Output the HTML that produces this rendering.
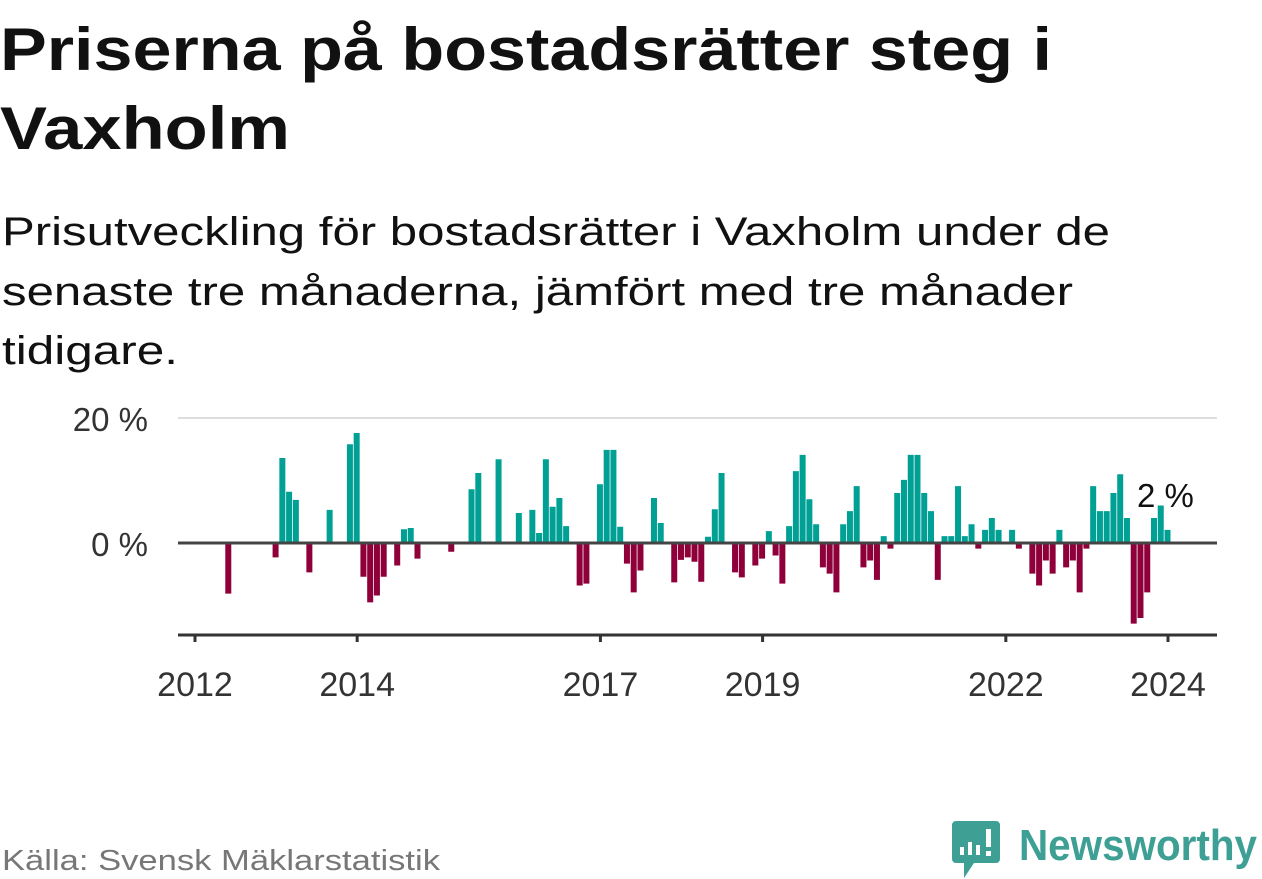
<!DOCTYPE html>
<html><head><meta charset="utf-8">
<style>
html,body{margin:0;padding:0;background:#fff;}
svg{display:block;font-family:"Liberation Sans",sans-serif;}
</style></head>
<body>
<svg id="chart" width="1262" height="879" viewBox="0 0 1262 879" xmlns="http://www.w3.org/2000/svg">
  <text x="0" y="70" font-size="60" font-weight="bold" fill="#111" textLength="1052" lengthAdjust="spacingAndGlyphs">Priserna på bostadsrätter steg i</text>
  <text x="0" y="149" font-size="60" font-weight="bold" fill="#111" textLength="290" lengthAdjust="spacingAndGlyphs">Vaxholm</text>
  <text x="2" y="245" font-size="40" fill="#111" textLength="1108" lengthAdjust="spacingAndGlyphs">Prisutveckling för bostadsrätter i Vaxholm under de</text>
  <text x="2" y="305" font-size="40" fill="#111" textLength="1071" lengthAdjust="spacingAndGlyphs">senaste tre månaderna, jämfört med tre månader</text>
  <text x="2" y="364" font-size="40" fill="#111" textLength="176" lengthAdjust="spacingAndGlyphs">tidigare.</text>

  <g id="plot"></g>

  <text x="2" y="870" font-size="29" fill="#777" textLength="438" lengthAdjust="spacingAndGlyphs">Källa: Svensk Mäklarstatistik</text>
  <g>
    <path d="M956 821 h40 a4 4 0 0 1 4 4 v34 a4 4 0 0 1 -4 4 h-22 l-10 15 v-15 h-8 a4 4 0 0 1 -4 -4 v-34 a4 4 0 0 1 4 -4z" fill="#3e9f94"/>
    <rect x="960" y="847" width="4" height="8" fill="#fff"/>
    <rect x="968" y="842" width="4" height="13" fill="#fff"/>
    <rect x="976" y="845" width="4" height="10" fill="#fff"/>
    <rect x="986" y="829" width="5" height="18" fill="#fff"/>
    <rect x="986" y="851" width="5" height="5" fill="#fff"/>
    <text x="1019" y="860" font-size="44" font-weight="bold" fill="#3e9f94" textLength="238" lengthAdjust="spacingAndGlyphs">Newsworthy</text>
  </g>
</svg>
<script>
const monthIdx = [5,12,13,14,15,17,20,23,24,25,26,27,28,30,31,32,33,38,41,42,45,48,50,51,52,53,54,55,57,58,60,61,62,63,64,65,66,68,69,71,72,73,74,75,76,77,78,80,81,83,84,85,86,87,88,89,90,91,92,93,94,95,96,97,98,99,100,101,102,103,104,105,106,107,108,109,110,111,112,113,114,115,116,117,118,119,121,122,124,125,126,127,128,129,130,131,132,133,134,135,136,137,138,139,140,141,142,143,144];
const values = [-8.1,-2.3,13.6,8.2,6.9,-4.7,5.3,15.8,17.6,-5.4,-9.5,-8.4,-5.4,-3.6,2.2,2.4,-2.5,-1.4,8.6,11.2,13.4,4.8,5.3,1.6,13.4,5.8,7.2,2.7,-6.8,-6.5,9.4,14.9,14.9,2.6,-3.3,-7.9,-4.4,7.2,3.2,-6.3,-2.7,-2.3,-3.0,-6.2,1.0,5.4,11.2,-4.7,-5.5,-3.6,-2.5,1.9,-2.0,-6.5,2.7,11.5,14.1,7.0,3.0,-3.9,-4.9,-7.9,3.0,5.1,9.1,-3.9,-2.8,-5.9,1.1,-0.9,8.0,10.1,14.1,14.1,8.0,5.1,-5.9,1.1,1.1,9.1,1.1,3.0,-0.9,2.1,4.0,2.1,2.1,-0.9,-4.9,-6.8,-2.8,-4.9,2.1,-3.9,-2.8,-7.9,-0.9,9.1,5.1,5.1,8.0,11.0,4.0,-12.9,-12.0,-7.9,4.0,6.0,2.1];
const yearTicks = [2012,2014,2017,2019,2022,2024];
const yTicks = [0,20];
const lastLabel = "2 %";

const NS = "http://www.w3.org/2000/svg";
const g = document.getElementById('plot');
function x(idx){ return 195 + idx*(973/144); }
function xYear(yr){ return x((yr-2012)*12); }
function y(v){ return 543 - v*6.25; }
function mk(tag, attrs){ const e=document.createElementNS(NS,tag); for(const k in attrs) e.setAttribute(k,attrs[k]); g.appendChild(e); return e; }

yTicks.forEach(t=>{
  if(t!==0){
    const gl = mk('line',{x1:178,x2:1217,y1:y(t),y2:y(t),stroke:'#ddd','stroke-width':2});
    
    
  }
  const tl = mk('text',{x:148,y:y(t)+13,'font-size':33,fill:'#333','text-anchor':'end'});
  tl.textContent = t + ' %';
  
  
});

values.forEach((v,i)=>{
  const cx = x(monthIdx[i]) - 0.5;
  const top = v>=0 ? y(v) : y(0);
  const h = Math.abs(y(v)-y(0));
  const r = mk('rect',{x:cx-3,y:top,width:6,height:h,fill: v>=0 ? '#00a095' : '#8f003b'});
  
  
});

const zl = mk('line',{x1:178,x2:1217,y1:y(0),y2:y(0),stroke:'#444','stroke-width':3});



const ax = mk('line',{x1:178,x2:1217,y1:635,y2:635,stroke:'#333','stroke-width':3});



yearTicks.forEach(yr=>{
  const xx = xYear(yr);
  const tk = mk('line',{x1:xx,x2:xx,y1:635,y2:642,stroke:'#333','stroke-width':3});
  
  
  const tl = mk('text',{x:xx,y:696,'font-size':34,fill:'#333','text-anchor':'middle'});
  tl.textContent = yr;
  
  
});

const lastX = x(monthIdx[monthIdx.length-1]);
const lbl = mk('text',{x:lastX-31,y:507,'font-size':33,fill:'#111'});
lbl.textContent = lastLabel;


</script>
</body></html>
